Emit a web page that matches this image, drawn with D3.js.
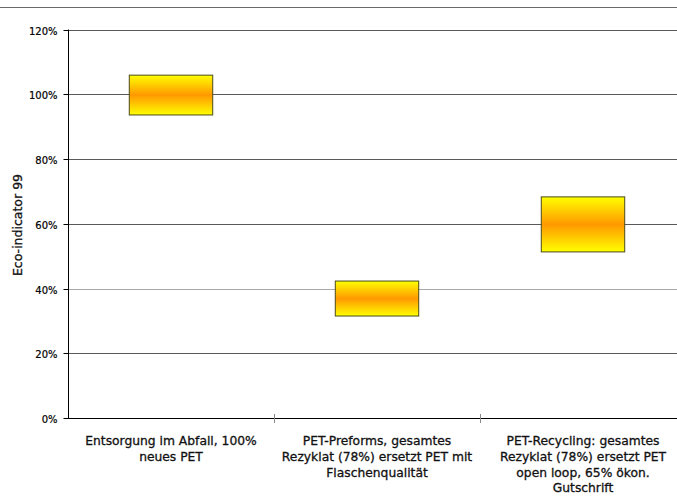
<!DOCTYPE html>
<html>
<head>
<meta charset="utf-8">
<script src="https://cdn.jsdelivr.net/npm/d3@7"></script>
<style>
  html, body { margin: 0; padding: 0; background: #fff; }
  svg { display: block; font-family: "DejaVu Sans", Verdana, sans-serif; }
</style>
</head>
<body>
<svg id="chart" width="677" height="497"></svg>
<script>
// Scenario labels (one line per array entry)
const categories = [
  ["Entsorgung im Abfall, 100%", "neues PET"],
  ["PET-Preforms, gesamtes", "Rezyklat (78%) ersetzt PET mit", "Flaschenqualität"],
  ["PET-Recycling: gesamtes", "Rezyklat (78%) ersetzt PET", "open loop, 65% ökon.", "Gutschrift"]
];
// Range of the Eco-indicator 99 result per scenario (% of the reference case)
const lowValues  = [93.6, 31.5, 51.3];
const highValues = [105.9, 42.3, 68.3];
const yTicks = [0, 20, 40, 60, 80, 100, 120];

const svg = d3.select("#chart");
const W = 677, H = 497;
const plot = { left: 68, top: 29.5, bottom: 418, right: 686 };

const x = d3.scaleBand()
  .domain(d3.range(categories.length))
  .range([plot.left, plot.right])
  .paddingInner(0).paddingOuter(0);

const y = d3.scaleLinear().domain([0, 120]).range([plot.bottom, plot.top]);

// Outer frame line along the top
svg.append("line")
  .attr("x1", 0).attr("x2", W).attr("y1", 7.5).attr("y2", 7.5)
  .attr("stroke", "#6a6a6a").attr("stroke-width", 1);

// Gradient used for the range boxes
const defs = svg.append("defs");
const grad = defs.append("linearGradient")
  .attr("id", "boxFill").attr("x1", 0).attr("x2", 0).attr("y1", 0).attr("y2", 1);
grad.append("stop").attr("offset", "0%").attr("stop-color", "#ffff00");
grad.append("stop").attr("offset", "50%").attr("stop-color", "#ff9900");
grad.append("stop").attr("offset", "100%").attr("stop-color", "#ffff00");

// Horizontal gridlines
svg.append("g")
  .selectAll("line")
  .data(yTicks.filter(d => d > 0))
  .join("line")
  .attr("x1", plot.left).attr("x2", W)
  .attr("y1", d => Math.round(y(d)) + 0.5)
  .attr("y2", d => Math.round(y(d)) + 0.5)
  .attr("stroke", d => d === 40 ? "#a8a8a8" : "#5a5a5a")
  .attr("stroke-width", 1);

// Y axis
const yAxis = d3.axisLeft(y)
  .tickValues(yTicks)
  .tickFormat(d => d + "%")
  .tickSize(5)
  .tickPadding(6);
const gy = svg.append("g")
  .attr("transform", `translate(${plot.left + 0.5},0)`)
  .call(yAxis);
gy.select(".domain").attr("stroke", "#000").attr("d", `M0,${plot.top}V${plot.bottom}`);
gy.selectAll(".tick line").attr("stroke", "#000");
gy.selectAll(".tick").attr("transform", d => `translate(0,${Math.round(y(d)) + 0.5})`);
gy.selectAll(".tick text")
  .attr("font-size", 10).attr("font-family", "'DejaVu Sans', sans-serif")
  .attr("fill", "#000").attr("stroke", "#000").attr("stroke-width", 0.2)
  .attr("dy", "0.35em").attr("y", 1);

// X axis line
svg.append("line")
  .attr("x1", plot.left).attr("x2", W)
  .attr("y1", plot.bottom + 0.5).attr("y2", plot.bottom + 0.5)
  .attr("stroke", "#000");

// Cross tick marks between categories
svg.append("g")
  .selectAll("line")
  .data(d3.range(1, categories.length))
  .join("line")
  .attr("x1", d => Math.round(x(d)) + 0.5)
  .attr("x2", d => Math.round(x(d)) + 0.5)
  .attr("y1", plot.bottom - 4).attr("y2", plot.bottom + 5)
  .attr("stroke", "#8a8a8a");

// Range boxes
const boxW = x.bandwidth() * 0.405;
svg.append("g")
  .selectAll("rect")
  .data(d3.range(categories.length))
  .join("rect")
  .attr("x", i => x(i) + x.bandwidth() / 2 - boxW / 2)
  .attr("width", boxW)
  .attr("y", i => y(highValues[i]))
  .attr("height", i => y(lowValues[i]) - y(highValues[i]))
  .attr("fill", "url(#boxFill)")
  .attr("stroke", "#4a4a1a")
  .attr("stroke-width", 1);

// Category labels, centred under each band
const lab = svg.append("g")
  .selectAll("text")
  .data(d3.range(categories.length))
  .join("text")
  .attr("text-anchor", "middle")
  .attr("font-size", 12.3)
  .attr("fill", "#111")
  .attr("stroke", "#111").attr("stroke-width", 0.3)
  .attr("transform", i => `translate(${x(i) + x.bandwidth() / 2},445)`);
lab.selectAll("tspan")
  .data(i => categories[i])
  .join("tspan")
  .attr("x", 0)
  .attr("y", (d, k) => k * 15.8)
  .text(d => d);

// Y axis title
svg.append("text")
  .attr("transform", `translate(21.5,225) rotate(-90)`)
  .attr("text-anchor", "middle")
  .attr("font-size", 12.5)
  .attr("fill", "#111")
  .attr("stroke", "#111").attr("stroke-width", 0.3)
  .text("Eco-indicator 99");
</script>
</body>
</html>
